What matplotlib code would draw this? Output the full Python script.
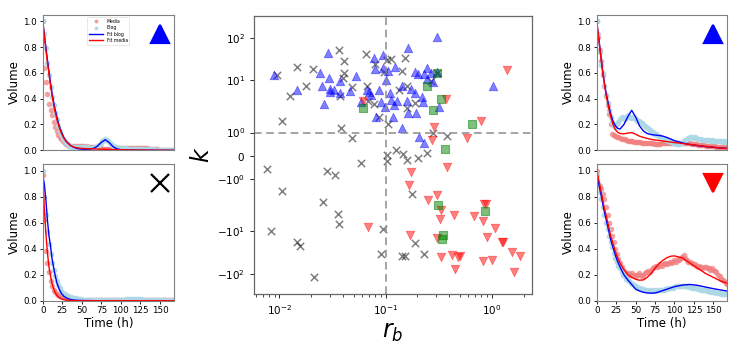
import numpy as np
import matplotlib
matplotlib.use('Agg')
import matplotlib.pyplot as plt

# time grids (h)
t_obs = np.arange(0, 170, 2)
t_fit = [0, 2, 4, 6, 8, 10, 12, 15, 18, 21, 24, 27, 30, 35, 40, 45, 50, 55, 60, 65,
         70, 75, 80, 85, 90, 95, 100, 110, 120, 130, 140, 150, 160, 168]

# ---- top-left panel (blue triangle group)
tl_media = [1.00, 0.64, 0.53, 0.44, 0.36, 0.31, 0.27, 0.22, 0.18, 0.15,
            0.12, 0.10, 0.085, 0.07, 0.055, 0.045, 0.04, 0.036, 0.032, 0.03,
            0.03, 0.033, 0.035, 0.032, 0.03, 0.033, 0.03, 0.028, 0.03, 0.027,
            0.025, 0.027, 0.024, 0.022, 0.02, 0.018, 0.016, 0.014, 0.012, 0.012,
            0.013, 0.011, 0.01, 0.01, 0.009, 0.01, 0.012, 0.013, 0.015, 0.016,
            0.018, 0.017, 0.019, 0.02, 0.018, 0.02, 0.019, 0.021, 0.02, 0.018,
            0.02, 0.019, 0.018, 0.02, 0.017, 0.018, 0.016, 0.015, 0.012, 0.01,
            0.009, 0.008, 0.007, 0.007, 0.006, 0.006, 0.005, 0.005, 0.005, 0.004,
            0.004, 0.004, 0.003, 0.003, 0.003]
tl_blog = [1.00, 0.90, 0.79, 0.68, 0.58, 0.49, 0.41, 0.35, 0.29, 0.24,
           0.19, 0.15, 0.12, 0.09, 0.07, 0.055, 0.045, 0.035, 0.03, 0.028,
           0.025, 0.027, 0.024, 0.026, 0.023, 0.025, 0.022, 0.024, 0.02, 0.022,
           0.02, 0.021, 0.02, 0.022, 0.025, 0.03, 0.04, 0.055, 0.07, 0.08,
           0.085, 0.08, 0.07, 0.055, 0.04, 0.03, 0.025, 0.022, 0.02, 0.02,
           0.018, 0.016, 0.015, 0.014, 0.013, 0.012, 0.012, 0.011, 0.011, 0.01,
           0.01, 0.01, 0.009, 0.01, 0.009, 0.009, 0.008, 0.008, 0.008, 0.007,
           0.007, 0.007, 0.006, 0.006, 0.006, 0.005, 0.005, 0.005, 0.005, 0.004,
           0.004, 0.004, 0.004, 0.003, 0.003]
tl_fit_blog = [1.0, 0.90, 0.80, 0.70, 0.61, 0.52, 0.44, 0.34, 0.26, 0.19, 0.14, 0.10,
               0.07, 0.04, 0.022, 0.013, 0.009, 0.008, 0.009, 0.015, 0.032, 0.062,
               0.082, 0.06, 0.028, 0.011, 0.005, 0.003, 0.002, 0.001, 0.001, 0.0, 0.0, 0.0]
tl_fit_media = [1.0, 0.89, 0.78, 0.68, 0.59, 0.50, 0.42, 0.32, 0.24, 0.18, 0.13, 0.095,
                0.068, 0.04, 0.025, 0.018, 0.015, 0.013, 0.012, 0.011, 0.01, 0.009,
                0.008, 0.007, 0.006, 0.005, 0.004, 0.003, 0.002, 0.002, 0.001, 0.001, 0.0, 0.0]

# ---- bottom-left panel (x group)
bl_media = [0.97, 0.62, 0.38, 0.29, 0.22, 0.15, 0.11, 0.085, 0.07, 0.055,
            0.045, 0.04, 0.035, 0.03, 0.025, 0.02, 0.015, 0.012, 0.01, 0.008,
            0.006, 0.005, 0.004, 0.004, 0.003, 0.003, 0.003, 0.002, 0.002, 0.002,
            0.002, 0.002, 0.002, 0.002, 0.002, 0.002, 0.002, 0.002, 0.002, 0.002,
            0.002, 0.002, 0.002, 0.002, 0.002, 0.002, 0.002, 0.002, 0.002, 0.002,
            0.002, 0.002, 0.002, 0.002, 0.002, 0.002, 0.002, 0.002, 0.002, 0.002,
            0.002, 0.002, 0.002, 0.002, 0.002, 0.002, 0.002, 0.002, 0.002, 0.002,
            0.002, 0.002, 0.002, 0.002, 0.002, 0.002, 0.002, 0.002, 0.002, 0.002,
            0.002, 0.002, 0.002, 0.002, 0.002]
bl_blog = [1.00, 0.80, 0.66, 0.53, 0.44, 0.36, 0.29, 0.24, 0.19, 0.15,
           0.12, 0.095, 0.075, 0.06, 0.05, 0.042, 0.036, 0.03, 0.026, 0.022,
           0.02, 0.018, 0.015, 0.012, 0.01, 0.008, 0.006, 0.005, 0.004, 0.004,
           0.003, 0.003, 0.003, 0.003, 0.003, 0.003, 0.003, 0.003, 0.003, 0.003,
           0.003, 0.003, 0.003, 0.003, 0.003, 0.004, 0.004, 0.004, 0.004, 0.005,
           0.006, 0.007, 0.008, 0.01, 0.011, 0.012, 0.012, 0.013, 0.012, 0.013,
           0.012, 0.011, 0.012, 0.01, 0.008, 0.006, 0.005, 0.004, 0.004, 0.003,
           0.003, 0.003, 0.003, 0.003, 0.003, 0.003, 0.003, 0.003, 0.003, 0.003,
           0.003, 0.003, 0.003, 0.003, 0.003]
bl_fit_blog = [0.97, 0.90, 0.78, 0.62, 0.50, 0.42, 0.32, 0.22, 0.14, 0.09, 0.055, 0.035,
               0.022, 0.01, 0.005, 0.003, 0.002, 0.001, 0.001, 0.0, 0.0, 0.0, 0.0, 0.0,
               0.0, 0.0, 0.0, 0.0, 0.0, 0.0, 0.0, 0.0, 0.0, 0.0]
bl_fit_media = [0.97, 0.72, 0.52, 0.37, 0.26, 0.19, 0.13, 0.075, 0.042, 0.024, 0.013, 0.008,
                0.005, 0.002, 0.001, 0.0, 0.0, 0.0, 0.0, 0.0, 0.0, 0.0, 0.0, 0.0,
                0.0, 0.0, 0.0, 0.0, 0.0, 0.0, 0.0, 0.0, 0.0, 0.0]

# ---- top-right panel (blue triangle group)
tr_media = [1.0, 0.88, 0.78, 0.69, 0.58, 0.5, 0.42, 0.35, 0.28, 0.2,
            0.13, 0.12, 0.11, 0.1, 0.1, 0.095, 0.09, 0.085, 0.085, 0.08,
            0.075, 0.07, 0.072, 0.07, 0.068, 0.065, 0.066, 0.062, 0.064, 0.06,
            0.058, 0.06, 0.057, 0.055, 0.056, 0.054, 0.055, 0.052, 0.05, 0.052,
            0.05, 0.052, 0.055, 0.054, 0.056, 0.055, 0.057, 0.056, 0.058, 0.057,
            0.056, 0.058, 0.057, 0.055, 0.056, 0.054, 0.056, 0.055, 0.053, 0.055,
            0.054, 0.05, 0.048, 0.046, 0.045, 0.043, 0.042, 0.04, 0.04, 0.038,
            0.037, 0.036, 0.034, 0.033, 0.032, 0.03, 0.03, 0.028, 0.028, 0.027,
            0.026, 0.025, 0.025, 0.024, 0.024]
tr_blog = [1.00, 0.9, 0.76, 0.66, 0.6, 0.5, 0.43, 0.37, 0.31, 0.26,
           0.22, 0.19, 0.18, 0.2, 0.22, 0.24, 0.26, 0.25, 0.24, 0.26,
           0.27, 0.26, 0.25, 0.26, 0.25, 0.24, 0.23, 0.23, 0.22, 0.21,
           0.2, 0.19, 0.18, 0.17, 0.16, 0.15, 0.14, 0.13, 0.13, 0.12,
           0.11, 0.1, 0.095, 0.09, 0.085, 0.08, 0.075, 0.07, 0.065, 0.06,
           0.055, 0.05, 0.05, 0.052, 0.055, 0.06, 0.07, 0.08, 0.09, 0.095,
           0.1, 0.1, 0.098, 0.1, 0.095, 0.09, 0.088, 0.085, 0.08, 0.08,
           0.08, 0.078, 0.08, 0.075, 0.078, 0.072, 0.075, 0.07, 0.072, 0.07,
           0.07, 0.068, 0.07, 0.065, 0.068]
tr_fit_blog = [1.0, 0.9, 0.8, 0.7, 0.6, 0.52, 0.45, 0.36, 0.28, 0.225, 0.19, 0.17,
               0.165, 0.2, 0.26, 0.31, 0.26, 0.19, 0.15, 0.13, 0.122, 0.118, 0.115, 0.11,
               0.1, 0.088, 0.075, 0.058, 0.045, 0.036, 0.029, 0.023, 0.018, 0.015]
tr_fit_media = [1.0, 0.9, 0.79, 0.69, 0.59, 0.51, 0.43, 0.34, 0.26, 0.2, 0.16, 0.14,
                0.13, 0.128, 0.133, 0.137, 0.125, 0.11, 0.1, 0.092, 0.085, 0.08, 0.076, 0.072,
                0.068, 0.064, 0.06, 0.053, 0.045, 0.038, 0.03, 0.024, 0.018, 0.014]

# ---- bottom-right panel (red triangle group)
br_media = [1.0, 0.9, 0.88, 0.86, 0.82, 0.78, 0.72, 0.66, 0.6, 0.55,
            0.5, 0.45, 0.4, 0.36, 0.32, 0.29, 0.26, 0.24, 0.22, 0.21,
            0.2, 0.21, 0.2, 0.21, 0.2, 0.19, 0.2, 0.21, 0.2, 0.19,
            0.2, 0.21, 0.22, 0.23, 0.22, 0.24, 0.25, 0.26, 0.27, 0.26,
            0.27, 0.28, 0.27, 0.28, 0.29, 0.28, 0.29, 0.3, 0.29, 0.3,
            0.31, 0.3, 0.32, 0.31, 0.33, 0.34, 0.35, 0.33, 0.31, 0.3,
            0.3, 0.29, 0.28, 0.28, 0.27, 0.26, 0.27, 0.26, 0.25, 0.26,
            0.26, 0.25, 0.25, 0.24, 0.25, 0.24, 0.23, 0.22, 0.2, 0.19,
            0.17, 0.16, 0.15, 0.14, 0.13]
br_blog = [0.97, 0.9, 0.84, 0.78, 0.72, 0.66, 0.6, 0.55, 0.5, 0.45,
           0.41, 0.37, 0.33, 0.3, 0.27, 0.25, 0.22, 0.2, 0.19, 0.17,
           0.16, 0.15, 0.14, 0.13, 0.12, 0.11, 0.1, 0.1, 0.095, 0.09,
           0.09, 0.085, 0.08, 0.08, 0.075, 0.08, 0.075, 0.08, 0.078, 0.08,
           0.08, 0.085, 0.08, 0.085, 0.09, 0.09, 0.095, 0.1, 0.1, 0.1,
           0.105, 0.11, 0.11, 0.11, 0.115, 0.11, 0.115, 0.11, 0.11, 0.105,
           0.105, 0.1, 0.1, 0.095, 0.095, 0.09, 0.09, 0.085, 0.085, 0.08,
           0.08, 0.075, 0.075, 0.07, 0.07, 0.065, 0.065, 0.06, 0.06, 0.058,
           0.055, 0.055, 0.05, 0.05, 0.048]
br_fit_blog = [0.98, 0.92, 0.86, 0.8, 0.74, 0.68, 0.63, 0.55, 0.47, 0.41, 0.35, 0.3,
               0.26, 0.2, 0.16, 0.125, 0.09, 0.075, 0.065, 0.06, 0.058, 0.06, 0.068, 0.078,
               0.088, 0.098, 0.108, 0.12, 0.125, 0.118, 0.105, 0.093, 0.082, 0.074]
br_fit_media = [1.0, 0.95, 0.89, 0.83, 0.77, 0.71, 0.66, 0.58, 0.5, 0.44, 0.38, 0.33,
                0.29, 0.24, 0.2, 0.18, 0.165, 0.158, 0.16, 0.18, 0.21, 0.25, 0.285, 0.31,
                0.33, 0.342, 0.345, 0.33, 0.29, 0.25, 0.21, 0.18, 0.15, 0.135]

# ---- central scatter (r_b, k)
up_rb = [0.0089, 0.0148, 0.0265, 0.0285, 0.0243, 0.0296, 0.0252, 0.0302, 0.0298, 0.033,
         0.037, 0.0376, 0.0467, 0.0532, 0.0589, 0.0671, 0.0695, 0.0722, 0.0787, 0.0804,
         0.0822, 0.0865, 0.0897, 0.0937, 0.095, 0.0993, 0.102, 0.105, 0.11, 0.113,
         0.118, 0.12, 0.1225, 0.129, 0.1415, 0.144, 0.1626, 0.160, 0.1637, 0.172,
         0.188, 0.19, 0.1935, 0.204, 0.222, 0.227, 0.23, 0.244, 0.248, 0.266,
         0.2825, 0.303, 0.303, 0.319, 1.04, 0.208, 0.23]
up_k = [13.2, 6.5, 3.47, 44.6, 15.2, 11.6, 8.0, 6.9, 5.98, 6.5,
        9.7, 5.8, 6.25, 12.9, 3.9, 6.5, 6.07, 5.24, 32.9, 18.2,
        2.0, 6.5, 3.9, 39.4, 19.2, 3.13, 10.2, 16.6, 5.8, 4.2,
        2.0, 3.37, 20.2, 4.08, 1.22, 7.8, 58.5, 4.08, 2.33, 6.73,
        16.0, 5.64, 2.4, 14.1, 4.72, 3.9, 14.1, 19.2, 10.6, 14.6,
        9.3, 102, 16.0, 3.13, 7.8, 0.79, 0.56]

x_rb = [0.0095, 0.0105, 0.0126, 0.0148, 0.0179, 0.0207, 0.0362, 0.0404, 0.0404, 0.0398,
        0.0484, 0.0376, 0.0381, 0.066, 0.0671, 0.068, 0.0776, 0.0804, 0.0964, 0.1037,
        0.0859, 0.105, 0.1115, 0.1336, 0.1415, 0.151, 0.160, 0.158, 0.188, 0.266,
        0.303, 0.2825, 0.383, 0.0484,
        0.0077, 0.0105, 0.0083, 0.0281, 0.0337, 0.0258, 0.0354, 0.0365, 0.0148, 0.0157,
        0.021, 0.0589, 0.095, 0.0897, 0.104, 0.103, 0.125, 0.147, 0.158, 0.202,
        0.244, 0.1775, 0.188, 0.1416, 0.151, 0.23]
x_k = [13.2, 1.66, 5.0, 20.2, 8.0, 18.8, 50.6, 28.5, 14.6, 11.2,
       7.36, 5.0, 1.2, 41.5, 7.8, 4.08, 3.47, 24.2, 16.0, 30.1,
       1.95, 1.49, 31.1, 6.5, 16.6, 33.5, 7.8, 2.99, 3.62, 9.7,
       14.6, 0.99, 0.85, 0.77,
       -0.57, -1.70, -10.0, -0.63, -0.8, -2.73, -4.57, -7.2, -17.8, -22.1,
       -113.5, -0.29, -8.9, -33.4, 0.03, -0.23, 0.24, 0.1, -0.19, -0.09,
       0.14, -1.89, -18.4, -37.9, -37.0, -33.4]

down_rb = [0.0615, 0.286, 0.369, 0.79, 0.583, 1.38, 0.276, 0.069, 0.175, 0.168,
           0.383, 0.251, 0.303, 0.331, 0.327, 0.437, 0.675, 0.82, 0.85, 0.887,
           1.07, 0.90, 1.24, 1.29, 1.57, 1.86, 1.61, 1.01, 0.83, 0.505,
           0.483, 0.424, 0.331, 0.449, 0.17, 0.307]
down_k = [4.08, 1.29, 4.32, 1.68, 0.77, 17.5, 0.67, -8.3, -0.69, -1.27,
          -0.47, -2.46, -2.03, -3.89, -5.71, -4.78, -5.15, -6.24, -2.94, -2.94,
          -8.63, -13.1, -17.8, -17.8, -30.5, -37.9, -89.8, -45.3, -48.7, -37.9,
          -40.5, -35.2, -39.2, -75.0, -11.8, -14.1]

sq_rb = [0.0615, 0.244, 0.307, 0.278, 0.336, 0.659, 0.361, 0.313, 0.869, 0.346, 0.341]
sq_k = [2.90, 7.8, 14.6, 2.70, 4.32, 1.49, 0.31, -3.16, -4.0, -11.8, -14.8]

k_ticks = [-100, -10, -1, 0, 1, 10, 100]
k_ticklabels = [r'$-10^{2}$', r'$-10^{1}$', r'$-10^{0}$', r'$0$',
                r'$10^{0}$', r'$10^{1}$', r'$10^{2}$']


def k_fwd(v):
    v = np.asarray(v, dtype=float)
    a = np.abs(v)
    la = np.log10(np.maximum(a, 1e-12))
    out = np.where(a <= 1, 0.449 * a,
                   np.where(a <= 10, 0.449 + la, 1.449 + 0.82 * (la - 1)))
    return np.sign(v) * out


def k_inv(u):
    u = np.asarray(u, dtype=float)
    a = np.abs(u)
    out = np.where(a <= 0.449, a / 0.449,
                   np.where(a <= 1.449, 10 ** (a - 0.449), 10 * 10 ** ((a - 1.449) / 0.82)))
    return np.sign(u) * out


fig = plt.figure(figsize=(7.47, 3.52), dpi=100)

ax_tl = fig.add_axes([0.0572, 0.573, 0.1758, 0.385])
ax_bl = fig.add_axes([0.0572, 0.1457, 0.1758, 0.3875])
ax_tr = fig.add_axes([0.7988, 0.573, 0.1748, 0.385])
ax_br = fig.add_axes([0.7988, 0.1457, 0.1748, 0.3875])
ax_c = fig.add_axes([0.3404, 0.1639, 0.3713, 0.7906])

panels = [
    (ax_tl, tl_media, tl_blog, tl_fit_blog, tl_fit_media, '^', 'b', False),
    (ax_bl, bl_media, bl_blog, bl_fit_blog, bl_fit_media, 'x', 'k', True),
    (ax_tr, tr_media, tr_blog, tr_fit_blog, tr_fit_media, '^', 'b', False),
    (ax_br, br_media, br_blog, br_fit_blog, br_fit_media, 'v', 'r', True),
]
for ax, media, blog, fblog, fmedia, mk, mc, bottom in panels:
    ax.plot(t_obs, media, 'o', color='lightcoral', ms=4, alpha=0.75, mew=0, label='Media')
    ax.plot(t_obs, blog, 'o', color='lightblue', ms=4, alpha=0.9, mew=0, label='Blog')
    ax.plot(t_fit, fblog, '-', color='b', lw=1.0, label='Fit blog')
    ax.plot(t_fit, fmedia, '-', color='r', lw=1.0, label='Fit media')
    ax.plot([0.89], [0.86], marker=mk, color=mc, ms=13, mew=1.6, transform=ax.transAxes)
    ax.set_xlim(0, 168)
    ax.set_ylim(0, 1.05)
    ax.set_yticks([0.0, 0.2, 0.4, 0.6, 0.8, 1.0])
    ax.set_ylabel('Volume', fontsize=8.5, labelpad=2)
    ax.tick_params(labelsize=6.3, length=2.5, width=0.6, pad=1.5)
    ax.set_xticks([0, 25, 50, 75, 100, 125, 150])
    if bottom:
        ax.set_xlabel('Time (h)', fontsize=8.5, labelpad=1)
    else:
        ax.tick_params(axis='x', labelbottom=False, length=0)
    for s in ax.spines.values():
        s.set_color('0.5')
        s.set_linewidth(0.8)

leg = ax_tl.legend(loc='upper center', fontsize=3.3, frameon=True, handlelength=3,
                   borderpad=0.4, labelspacing=0.3, bbox_to_anchor=(0.5, 1.0),
                   markerscale=0.7)
leg.get_frame().set_linewidth(0.4)

# central scatter
ax_c.axvline(0.1, color='0.55', ls='--', lw=1.1, dashes=(5, 3))
ax_c.axhline(1, color='0.55', ls='--', lw=1.1, dashes=(5, 3))
ax_c.scatter(x_rb, x_k, marker='x', color='k', alpha=0.5, s=28, lw=1.1)
ax_c.scatter(up_rb, up_k, marker='^', color='b', alpha=0.5, s=38, lw=0.5)
ax_c.scatter(down_rb, down_k, marker='v', color='r', alpha=0.5, s=38, lw=0.5)
ax_c.scatter(sq_rb, sq_k, marker='s', color='g', alpha=0.5, s=34, lw=0.8, edgecolors='g')
ax_c.set_xscale('log')
ax_c.set_yscale('function', functions=(k_fwd, k_inv))
ax_c.set_xlim(0.0058, 2.38)
ax_c.set_ylim(-295, 322)
ax_c.set_yticks(k_ticks)
ax_c.set_yticklabels(k_ticklabels)
ax_c.yaxis.set_minor_locator(matplotlib.ticker.NullLocator())
ax_c.tick_params(labelsize=7.5, length=3, width=0.6)
ax_c.tick_params(which='minor', length=2, width=0.5)
ax_c.set_xlabel(r'$r_b$', fontsize=17, labelpad=2)
ax_c.set_ylabel(r'$k$', fontsize=17, labelpad=2)
for s in ax_c.spines.values():
    s.set_color('0.4')
    s.set_linewidth(0.9)

fig.savefig('out.png', dpi=100)
